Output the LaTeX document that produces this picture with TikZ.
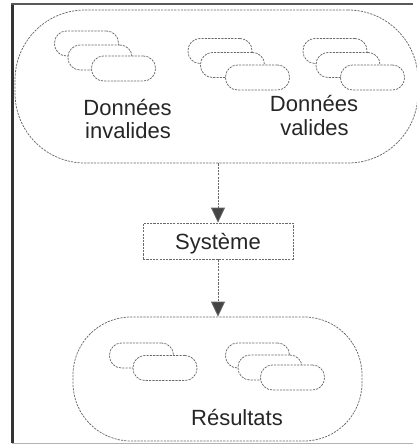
\documentclass[tikz,border=0pt]{standalone}
\usepackage{fontspec}
\setmainfont{Liberation Sans}
\usetikzlibrary{arrows.meta}

\definecolor{inkline}{HTML}{6A6A6A}
\definecolor{inktext}{HTML}{262626}
\definecolor{tipfill}{HTML}{444444}

\tikzset{
  sketch/.style={draw=inkline, line width=0.75pt, dash pattern=on 2.2pt off 1.1pt},
  pill/.style={sketch, fill=white, rectangle, rounded corners=12pt,
    minimum width=64pt, minimum height=25pt, inner sep=0pt},
  cloud/.style={sketch, rectangle, inner sep=0pt},
  sysbox/.style={sketch, rectangle, minimum width=150pt, minimum height=36pt,
    inner sep=0pt, text height=16pt, text depth=0pt},
  label/.style={text=inktext, font=\fontsize{22}{24}\selectfont, inner sep=0pt},
  conn/.style={sketch, -{Triangle[length=15pt,width=14pt,fill=tipfill]}},
}

\begin{document}
\begin{tikzpicture}[x=1pt, y=-1pt]
  \useasboundingbox (0,0) rectangle (417,445);

  % scanned frame
  \draw[draw=black!80, line width=3pt] (12,3) -- (12,443);
  \draw[draw=black!65, line width=2pt] (11,4) -- (413,4);
  \draw[draw=black!30, line width=1pt] (12,443) -- (413,443);

  % input data region
  \node[cloud, rounded corners=70pt, minimum width=403pt, minimum height=153pt]
    (inputs) at (216.5,86.5) {};

  % invalid data records
  \node[pill] (inv1) at (86.5,43.5) {};
  \node[pill] (inv2) at (100,57.5) {};
  \node[pill] (inv3) at (123.5,68.5) {};

  % valid data records, first stack
  \node[pill] (vala1) at (220,51) {};
  \node[pill] (vala2) at (232.5,65) {};
  \node[pill] (vala3) at (257.5,77.5) {};

  % valid data records, second stack
  \node[pill] (valb1) at (335,51) {};
  \node[pill] (valb2) at (348,65) {};
  \node[pill] (valb3) at (372.5,77.5) {};

  \node[label, anchor=base] (invtxt1) at (127.5,115) {Données};
  \node[label, anchor=base] (invtxt2) at (128,138) {invalides};
  \node[label, anchor=base] (valtxt1) at (314,111) {Données};
  \node[label, anchor=base] (valtxt2) at (314.5,135) {valides};

  % processing system
  \node[sysbox, label] (sys) at (218,241) {Système};

  % results region
  \node[cloud, rounded corners=58pt, minimum width=289pt, minimum height=124pt]
    (results) at (217.5,379) {};

  \node[pill] (resa1) at (141.5,355.5) {};
  \node[pill] (resa2) at (165,368) {};

  \node[pill] (resb1) at (257.5,355.5) {};
  \node[pill] (resb2) at (270,367.5) {};
  \node[pill] (resb3) at (292.5,377.5) {};

  \node[label, anchor=base] (restxt) at (237,425) {Résultats};

  % flow
  \draw[conn] (sys.north |- inputs.south) -- (sys.north);
  \draw[conn] (sys.south) -- (sys.south |- results.north);
\end{tikzpicture}
\end{document}
